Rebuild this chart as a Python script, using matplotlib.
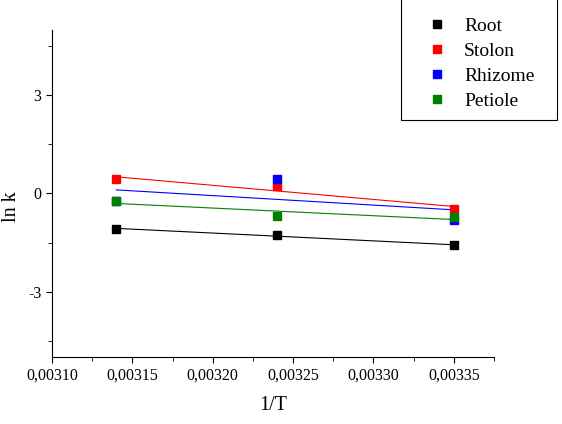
import matplotlib
matplotlib.use("Agg")
import matplotlib.pyplot as plt
from matplotlib.patches import Rectangle
from matplotlib.ticker import MultipleLocator, FuncFormatter
import numpy as np

plt.rcParams['font.family'] = ['Liberation Serif', 'DejaVu Serif']
plt.rcParams['axes.unicode_minus'] = False

inv_T = [0.00314, 0.00324, 0.00335]
root = [-1.09, -1.26, -1.59]
stolon = [0.43, 0.23, -0.47]
rhizome = [-0.22, 0.45, -0.80]
petiole = [-0.22, -0.70, -0.72]

series = [("Root", root, "#000000"),
          ("Stolon", stolon, "#ff0000"),
          ("Rhizome", rhizome, "#0000ff"),
          ("Petiole", petiole, "#008000")]

fig = plt.figure(figsize=(5.62, 4.24), dpi=100)
ax = fig.add_axes([52/562, 1-357/424, (494-52)/562, (357-30)/424])

x = np.array(inv_T)
handles = []
for name, y, c in series:
    # linear fit lines (Arrhenius)
    k, b = np.polyfit(x, y, 1)
    ax.plot(x, k*x + b, color=c, lw=0.8)
for name, y, c in series:
    h, = ax.plot(x, y, ls='none', marker='s', ms=6, color=c, label=name)
    handles.append(h)

ax.set_xlim(0.00310, 0.003375)
ax.set_ylim(-5, 5)
ax.xaxis.set_major_locator(MultipleLocator(0.00005))
ax.xaxis.set_minor_locator(MultipleLocator(0.000025))
ax.yaxis.set_major_locator(MultipleLocator(3))
ax.yaxis.set_minor_locator(MultipleLocator(1.5))
ax.xaxis.set_major_formatter(FuncFormatter(lambda v, p: f"{v:.5f}".replace('.', ',')))
ax.yaxis.set_major_formatter(FuncFormatter(lambda v, p: f"{v:.0f}"))

for s in ['top', 'right']:
    ax.spines[s].set_visible(False)
ax.tick_params(which='major', direction='out', length=4, labelsize=11.5)
ax.tick_params(which='minor', direction='out', length=3)

ax.set_xlabel("1/T", fontsize=14.5, labelpad=9)
ax.set_ylabel("ln k", fontsize=14.5)
ax.yaxis.set_label_coords(-0.07, 0.46)

leg = fig.legend(handles=handles, loc='upper left', bbox_to_anchor=(429/562, 1-17/424),
                 frameon=False, fontsize=14, handlelength=0.8, handletextpad=1.0,
                 labelspacing=0.38, borderaxespad=0, borderpad=0)
fig.add_artist(Rectangle((401/562, 1-120/424), (557-401)/562, 130/424,
                         transform=fig.transFigure, fill=False, ec='black', lw=0.8))

fig.savefig("out.png", dpi=100)
